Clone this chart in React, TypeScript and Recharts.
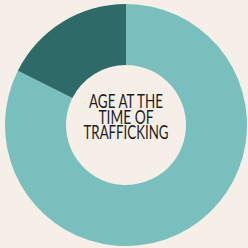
import { PieChart, Pie, Cell, Label } from 'recharts'

const groups = ['Adults', 'Minors']
const shares = [82.4, 17.6]
const colors = ['#79bfbd', '#2e6b68']
const titleLines = ['AGE AT THE', 'TIME OF', 'TRAFFICKING']

const data = groups.map((name, i) => ({ name, value: shares[i] }))

const lineWidths = [74, 55, 85]

function CenterTitle({ viewBox }: any) {
  const cx = viewBox?.cx ?? 126
  const cy = viewBox?.cy ?? 125
  return (
    <g>
      {titleLines.map((t, i) => (
        <text
          key={t}
          x={cx}
          y={cy - 17 + i * 15.5}
          textAnchor="middle"
          textLength={lineWidths[i]}
          lengthAdjust="spacingAndGlyphs"
          style={{ fontFamily: "Lato, 'DejaVu Sans Condensed', sans-serif", fontSize: 19, fontWeight: 400, fill: '#1e1e1e' }}
        >
          {t}
        </text>
      ))}
    </g>
  )
}

export default function App() {
  return (
    <div style={{ position: 'fixed', left: 0, top: 0, width: 248, height: 248, background: '#f5efe8' }}>
      <PieChart width={248} height={248} margin={{ top: 0, right: 0, bottom: 0, left: 0 }}>
        <Pie
          data={data}
          dataKey="value"
          nameKey="name"
          cx={126}
          cy={125}
          innerRadius={60}
          outerRadius={121}
          startAngle={90}
          endAngle={-270}
          stroke="none"
          isAnimationActive={false}
        >
          {data.map((_, i) => <Cell key={i} fill={colors[i]} />)}
          <Label content={<CenterTitle />} position="center" />
        </Pie>
      </PieChart>
    </div>
  )
}
